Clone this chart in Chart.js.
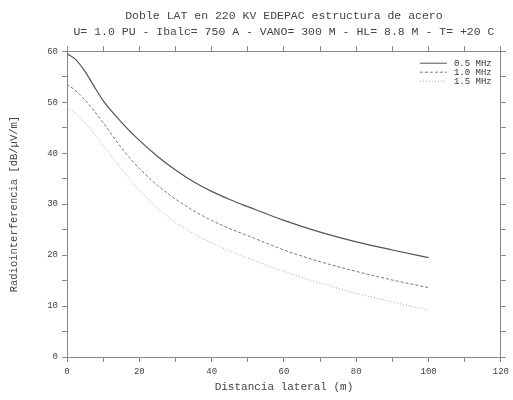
<!DOCTYPE html>
<html>
<head>
<meta charset="utf-8">
<script src="https://cdn.jsdelivr.net/npm/chart.js@4.4.1/dist/chart.umd.min.js"></script>
<style>
  html, body { margin: 0; padding: 0; background: #fff; }
  #wrap { width: 513px; height: 400px; }
</style>
</head>
<body>
<div id="wrap"><canvas id="chart" width="513" height="400"></canvas></div>
<script>
// Distancia lateral (m)
const distances = [0, 2.5, 5, 7.5, 10, 15, 20, 25, 30, 35, 40, 45, 50, 60, 70, 80, 90, 100];

// Radiointerferencia (dB/uV/m) por frecuencia
const rf05 = [59.5, 58.3, 56.0, 53.1, 50.3, 46.1, 42.5, 39.4, 36.7, 34.4, 32.5, 30.9, 29.5, 26.8, 24.5, 22.6, 21.0, 19.5];
const rf10 = [53.5, 52.2, 50.4, 48.3, 46.0, 41.1, 37.0, 33.7, 31.0, 28.7, 26.8, 25.2, 23.8, 21.0, 18.7, 16.8, 15.1, 13.6];
const rf15 = [49.0, 47.7, 45.9, 43.8, 41.5, 36.9, 32.7, 29.2, 26.4, 24.2, 22.4, 20.8, 19.4, 16.8, 14.5, 12.5, 10.8, 9.2];

const seriesLabels = ['0.5 MHz', '1.0 MHz', '1.5 MHz'];

const titleLines = [
  'Doble LAT en 220 KV EDEPAC estructura de acero',
  'U= 1.0 PU - Ibalc= 750 A - VANO= 300 M - HL= 8.8 M - T= +20 C'
];

const MONO = '"Liberation Mono", "DejaVu Sans Mono", monospace';

function pts(ys) {
  return distances.map((x, i) => ({ x: x, y: ys[i] }));
}

// small legend drawn inside the plot, top right
const insideLegend = {
  id: 'insideLegend',
  afterDatasetsDraw(chart) {
    const ctx = chart.ctx;
    const area = chart.chartArea;
    const x0 = area.right - 81;
    const y0 = area.top + 12;
    ctx.save();
    ctx.font = '9px ' + MONO;
    ctx.textBaseline = 'middle';
    chart.data.datasets.forEach((ds, i) => {
      const y = y0 + i * 9;
      ctx.strokeStyle = ds.borderColor;
      ctx.lineWidth = 1;
      ctx.setLineDash(ds.borderDash || []);
      ctx.beginPath();
      ctx.moveTo(x0, y);
      ctx.lineTo(x0 + 27, y);
      ctx.stroke();
      ctx.setLineDash([]);
      ctx.fillStyle = '#333';
      ctx.fillText(ds.label, x0 + 34, y);
    });
    ctx.restore();
  }
};

const tickGrid = {
  drawOnChartArea: false,
  drawTicks: true,
  tickLength: 5,
  color: '#888',
  tickColor: '#888'
};
const axisBorder = { display: true, color: '#888', width: 1 };

new Chart(document.getElementById('chart').getContext('2d'), {
  type: 'line',
  data: {
    datasets: [
      { label: seriesLabels[0], data: pts(rf05), borderColor: '#555', borderWidth: 1.2, borderDash: [] },
      { label: seriesLabels[1], data: pts(rf10), borderColor: '#777', borderWidth: 1, borderDash: [3, 2] },
      { label: seriesLabels[2], data: pts(rf15), borderColor: '#aaa', borderWidth: 1, borderDash: [1, 2] }
    ]
  },
  options: {
    responsive: false,
    animation: false,
    layout: { padding: { left: 0, right: 0, top: 0, bottom: 0 } },
    elements: {
      point: { radius: 0 },
      line: { cubicInterpolationMode: 'monotone', fill: false }
    },
    scales: {
      x: {
        type: 'linear', position: 'bottom', min: 0, max: 120,
        border: axisBorder,
        grid: tickGrid,
        ticks: {
          stepSize: 10, autoSkip: false, maxRotation: 0, padding: 4,
          color: '#444', font: { family: MONO, size: 9 },
          callback: v => (v % 20 === 0 ? v : '')
        },
        title: {
          display: true, text: 'Distancia lateral (m)', color: '#444',
          font: { family: MONO, size: 11 }, padding: { top: 4, bottom: 6 }
        },
        afterFit(scale) { scale.height = 43; }
      },
      x2: {
        type: 'linear', position: 'top', min: 0, max: 120,
        border: axisBorder,
        grid: tickGrid,
        ticks: { stepSize: 10, display: false },
        afterFit(scale) { scale.height = 11; }
      },
      y: {
        type: 'linear', position: 'left', min: 0, max: 60,
        border: axisBorder,
        grid: tickGrid,
        ticks: {
          stepSize: 5, autoSkip: false, padding: 4,
          color: '#444', font: { family: MONO, size: 9 },
          callback: v => (v % 10 === 0 ? v : '')
        },
        title: {
          display: true, text: 'Radiointerferencia [dB/\u00b5V/m]', color: '#444',
          font: { family: MONO, size: 10.5 }, padding: { top: 8, bottom: 4 }
        },
        afterFit(scale) { scale.width = 67; }
      },
      y2: {
        type: 'linear', position: 'right', min: 0, max: 60,
        border: axisBorder,
        grid: tickGrid,
        ticks: { stepSize: 5, display: false },
        afterFit(scale) { scale.width = 12; }
      }
    },
    plugins: {
      legend: { display: false },
      tooltip: { enabled: false },
      title: {
        display: true, text: titleLines, fullSize: false,
        color: '#444', font: { family: MONO, size: 11.5, weight: 'normal', lineHeight: 1.4 },
        padding: { top: 8, bottom: 0 }
      }
    }
  },
  plugins: [insideLegend]
});
</script>
</body>
</html>
